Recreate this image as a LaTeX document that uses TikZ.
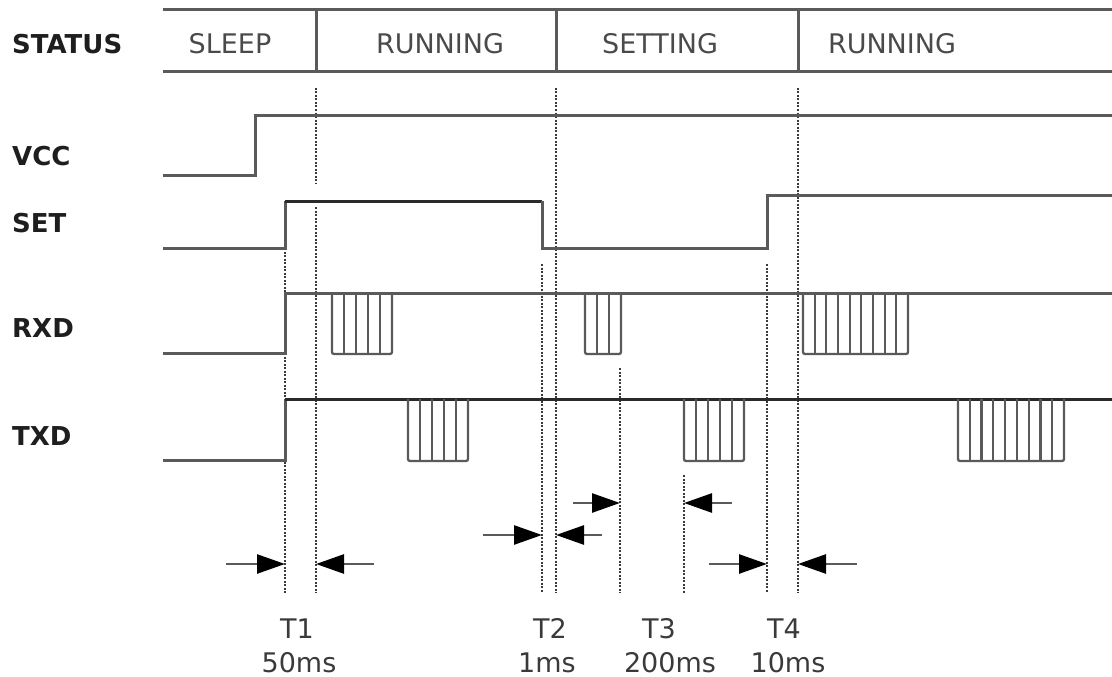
\documentclass[tikz,border=0pt]{standalone}
\usepackage{fontspec}
\setmainfont{DejaVu Sans}
\usetikzlibrary{arrows.meta}
\definecolor{sig}{HTML}{5A5A5A}
\definecolor{sigdark}{HTML}{2A2A2A}
\definecolor{guidec}{HTML}{3A3A3A}
\definecolor{lbl}{HTML}{1E1E1E}
\definecolor{statec}{HTML}{4A4A4A}
\definecolor{tc}{HTML}{3A3A3A}
\newcommand\burstdraw[5]{%
  \draw[burstline,rounded corners=2pt] (#1,#4) -- (#1,#5) -- (#2,#5) -- (#2,#4);
  \pgfmathtruncatemacro\bn{#3-1}%
  \foreach \k in {1,...,\bn} {\draw[burstline] ({#1+\k*(#2-#1)/#3},#4) -- ({#1+\k*(#2-#1)/#3},#5);}%
}
\begin{document}
\begin{tikzpicture}[x=1pt,y=-1pt,
  tableline/.style={draw=sig, line width=3pt},
  sigline/.style={draw=sig, line width=3pt},
  darkline/.style={draw=sigdark, line width=3pt},
  burstline/.style={draw=sig, line width=2.3pt},
  guide/.style={draw=guidec, line width=2.2pt, dash pattern=on 2pt off 1.5pt},
  meas/.style={draw=sig, line width=2.6pt, -{Triangle[length=28pt,width=19pt,black]}},
  siglabel/.style={font=\fontsize{26}{30}\selectfont\bfseries, text=lbl, anchor=base west, inner sep=0},
  state/.style={font=\fontsize{27}{32}\selectfont, text=statec, anchor=base, inner sep=0},
  tlabel/.style={font=\fontsize{27}{32}\selectfont, text=tc, anchor=base, inner sep=0}
]
\useasboundingbox (0,0) rectangle (1112,677);

% ---- status table ----
\draw[tableline] (163,10) -- (1112,10);
\draw[tableline] (163,72) -- (1112,72);
\draw[tableline] (316,10) -- (316,72);
\draw[tableline] (556,10) -- (556,72);
\draw[tableline] (798,10) -- (798,72);

\node[siglabel] (lstatus) at (12,54) {STATUS};
\node[siglabel] (lvcc) at (12,165) {VCC};
\node[siglabel] (lset) at (12,232) {SET};
\node[siglabel] (lrxd) at (12,337) {RXD};
\node[siglabel] (ltxd) at (12,445) {TXD};

\node[state] (s1) at (230,54) {SLEEP};
\node[state] (s2) at (440,54) {RUNNING};
\node[state] (s3) at (660,54) {SETTING};
\node[state] (s4) at (892,54) {RUNNING};

% ---- guide lines (dotted) ----
\coordinate (g1a) at (285,248); \coordinate (g1b) at (285,593);
\coordinate (g2a) at (316,88);  \coordinate (g2b) at (316,184);
\coordinate (g2c) at (316,207); \coordinate (g2d) at (316,593);
\coordinate (g3a) at (542,264); \coordinate (g3b) at (542,593);
\coordinate (g4a) at (556,88);  \coordinate (g4b) at (556,593);
\coordinate (g5a) at (620,368); \coordinate (g5b) at (620,593);
\coordinate (g6a) at (684,475); \coordinate (g6b) at (684,593);
\coordinate (g7a) at (767,264); \coordinate (g7b) at (767,593);
\coordinate (g8a) at (798,88);  \coordinate (g8b) at (798,593);
\draw[guide] (g1a) -- (g1b);
\draw[guide] (g2a) -- (g2b);
\draw[guide] (g2c) -- (g2d);
\draw[guide] (g3a) -- (g3b);
\draw[guide] (g4a) -- (g4b);
\draw[guide] (g5a) -- (g5b);
\draw[guide] (g6a) -- (g6b);
\draw[guide] (g7a) -- (g7b);
\draw[guide] (g8a) -- (g8b);

% ---- signals ----
\draw[sigline] (163,175) -- (255,175) -- (255,115) -- (1112,115);
\draw[sigline] (163,248) -- (285,248) -- (285,201);
\draw[darkline] (285,201) -- (542,201);
\draw[sigline] (542,201) -- (542,248) -- (767,248) -- (767,195) -- (1112,195);
\draw[sigline] (163,353) -- (285,353) -- (285,293) -- (1112,293);
\draw[sigline] (163,460) -- (285,460) -- (285,399);
\draw[darkline] (285,399) -- (1112,399);

\burstdraw{332}{392}{5}{293}{354}
\burstdraw{585}{621}{3}{293}{354}
\burstdraw{803}{908}{9}{293}{354}
\burstdraw{408}{468}{5}{399}{461}
\burstdraw{684}{744}{5}{399}{461}
\burstdraw{958}{1064}{9}{399}{461}

% ---- measurement arrows ----
\coordinate (a1s) at (226,564); \coordinate (a1e) at (285,564);
\coordinate (b1s) at (374,564); \coordinate (b1e) at (316,564);
\coordinate (a2s) at (483,535); \coordinate (a2e) at (542,535);
\coordinate (b2s) at (602,535); \coordinate (b2e) at (556,535);
\coordinate (a3s) at (573,503); \coordinate (a3e) at (620,503);
\coordinate (b3s) at (732,503); \coordinate (b3e) at (684,503);
\coordinate (a4s) at (709,564); \coordinate (a4e) at (767,564);
\coordinate (b4s) at (857,564); \coordinate (b4e) at (798,564);
\draw[meas] (a1s) -- (a1e);
\draw[meas] (b1s) -- (b1e);
\draw[meas] (a2s) -- (a2e);
\draw[meas] (b2s) -- (b2e);
\draw[meas] (a3s) -- (a3e);
\draw[meas] (b3s) -- (b3e);
\draw[meas] (a4s) -- (a4e);
\draw[meas] (b4s) -- (b4e);

% ---- timing labels ----
\node[tlabel] (t1) at (297,638) {T1};
\node[tlabel] (v1) at (299,672) {50ms};
\node[tlabel] (t2) at (550,638) {T2};
\node[tlabel] (v2) at (547,672) {1ms};
\node[tlabel] (t3) at (659,638) {T3};
\node[tlabel] (v3) at (670,672) {200ms};
\node[tlabel] (t4) at (784,638) {T4};
\node[tlabel] (v4) at (788,672) {10ms};
\end{tikzpicture}
\end{document}
